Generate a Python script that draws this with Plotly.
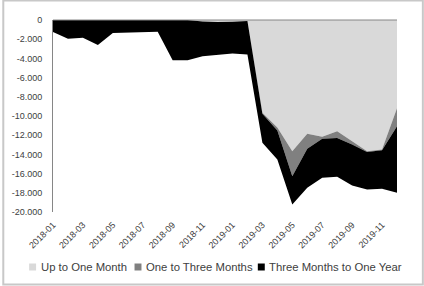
import plotly.graph_objects as go

months = ["2018-01", "2018-02", "2018-03", "2018-04", "2018-05", "2018-06",
          "2018-07", "2018-08", "2018-09", "2018-10", "2018-11", "2018-12",
          "2019-01", "2019-02", "2019-03", "2019-04", "2019-05", "2019-06",
          "2019-07", "2019-08", "2019-09", "2019-10", "2019-11", "2019-12"]

up_to_one_month = [0, 0, 0, 0, 0, 0, 0, 0, 0, 0, -150, -220,
                   -180, -100, -9670, -11200, -13670, -11850, -12170, -11580,
                   -12620, -13670, -13490, -9200]
one_to_three_months = [0, 0, 0, 0, 0, 0, 0, 0, 0, 0, 0, 0,
                       0, 0, -100, -300, -2600, -1570, -200, -700,
                       -350, -80, -80, -1860]
three_months_to_one_year = [-1250, -1950, -1850, -2600, -1350, -1300, -1250, -1230,
                            -4180, -4180, -3620, -3380, -3320, -3500, -3020, -3030,
                            -2950, -4060, -4070, -4050, -4270, -3910, -4010, -6940]

x_tick_labels = months[::2]
y_tick_values = [0, -2000, -4000, -6000, -8000, -10000, -12000, -14000, -16000, -18000, -20000]
y_tick_labels = ["0", "-2.000", "-4.000", "-6.000", "-8.000", "-10.000", "-12.000",
                 "-14.000", "-16.000", "-18.000", "-20.000"]

series_names = ["Up to One Month", "One to Three Months", "Three Months to One Year"]
series_values = [up_to_one_month, one_to_three_months, three_months_to_one_year]
series_colors = ["#d9d9d9", "#808080", "#000000"]

fig = go.Figure()
for name, vals, col in zip(series_names, series_values, series_colors):
    fig.add_trace(go.Scatter(
        x=months, y=vals, name=name, mode="lines",
        stackgroup="one", line=dict(width=0, color=col), fillcolor=col,
        hoverinfo="skip", showlegend=False,
    ))

# pixel -> paper helpers (plot area: x 51..397, y 20.5..212.5)
PL, PW, PB, PH = 51, 346, 212.5, 192
def px(x):
    return (x - PL) / PW
def py(y):
    return (PB - y) / PH

font_family = "Liberation Sans, Arial, sans-serif"
fig.update_layout(
    width=424, height=286,
    margin=dict(l=51, r=27, t=20, b=74),
    paper_bgcolor="white", plot_bgcolor="white",
    font=dict(family=font_family, size=9, color="#000000"),
    showlegend=False,
    xaxis=dict(type="category", range=[0, 23], showgrid=False, zeroline=False,
               showline=False, ticks="", tickangle=-45,
               tickvals=x_tick_labels, ticktext=x_tick_labels,
               tickfont=dict(size=9, color="#404040"), ticklabelstandoff=5),
    yaxis=dict(range=[-20000, 0], showgrid=False, zeroline=False,
               showline=True, linecolor="#868686", linewidth=1, ticks="",
               tickvals=y_tick_values, ticktext=y_tick_labels,
               tickfont=dict(size=9, color="#404040"), ticklabelstandoff=8),
)

# zero line at top of plot
fig.add_shape(type="line", xref="paper", yref="paper", x0=0, x1=1, y0=1, y1=1,
              line=dict(color="#868686", width=1))
# chart border
fig.add_shape(type="rect", xref="paper", yref="paper",
              x0=px(1), x1=px(423), y0=py(285), y1=py(1),
              line=dict(color="#c8c8c8", width=2), fillcolor="rgba(0,0,0,0)", layer="above")

# custom legend (small squares + labels)
legend_square_x = [27, 133, 257]
legend_y = 267.5
for name, col, sx in zip(series_names, series_colors, legend_square_x):
    fig.add_shape(type="rect", xref="paper", yref="paper",
                  x0=px(sx), x1=px(sx + 7), y0=py(legend_y + 3.5), y1=py(legend_y - 3.5),
                  line=dict(width=0), fillcolor=col)
    fig.add_annotation(xref="paper", yref="paper", x=px(sx + 9.5), y=py(legend_y),
                       xanchor="left", yanchor="middle", showarrow=False, text=name,
                       font=dict(size=11.3, color="#404040", family=font_family))

fig.write_html("out.html")
